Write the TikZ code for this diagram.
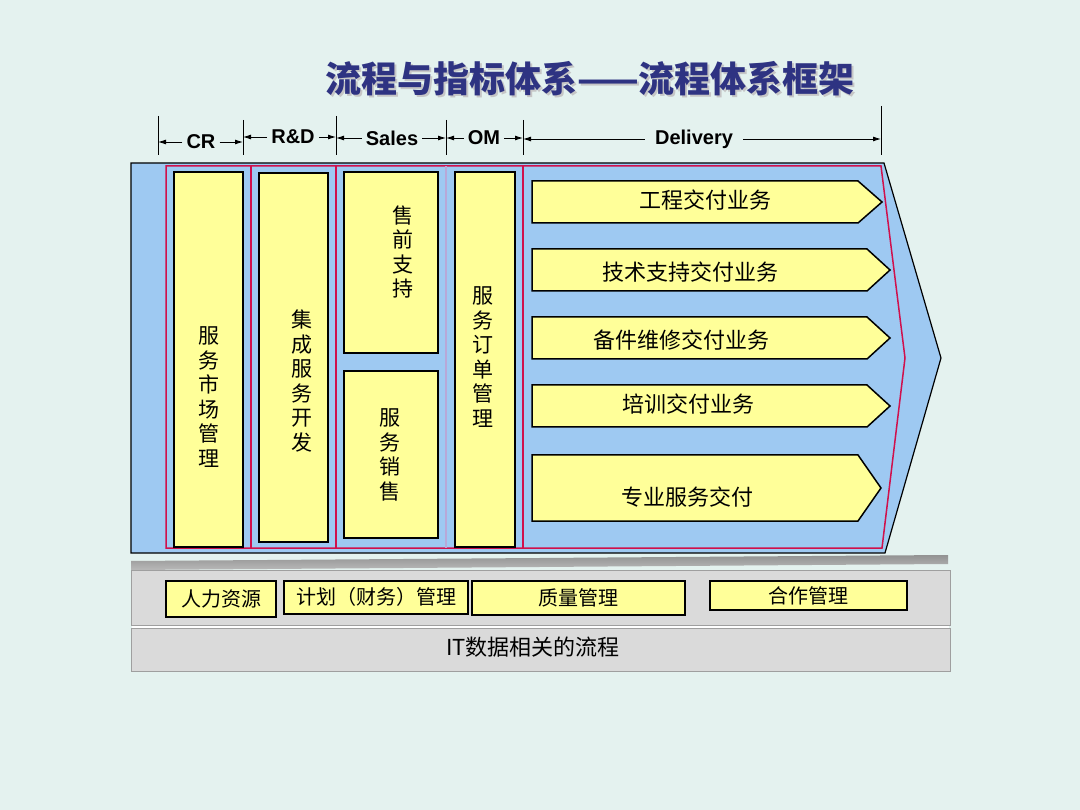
\documentclass[tikz,border=0pt]{standalone}
\usepackage{fontspec}
\setmainfont{Liberation Sans}
\newfontfamily\cjk{Noto Sans CJK SC}
\usetikzlibrary{arrows.meta}
\definecolor{bgc}{HTML}{E4F2EF}
\definecolor{chevc}{HTML}{9EC9F2}
\definecolor{yellowc}{HTML}{FFFF99}
\definecolor{redc}{HTML}{D0104C}
\definecolor{faintc}{HTML}{B8A8D8}
\definecolor{navyc}{HTML}{2E3382}
\definecolor{panelc}{HTML}{DADADA}
\begin{document}
\begin{tikzpicture}[x=1pt,y=-1pt,
  ybox/.style={draw=black,line width=1.5pt,fill=yellowc},
  vtext/.style={font=\cjk\fontsize{21}{24.5}\selectfont,align=center,inner sep=0pt},
  htext/.style={font=\cjk\fontsize{22}{26}\selectfont,inner sep=0pt},
  btext/.style={font=\cjk\fontsize{20}{24}\selectfont,inner sep=0pt},
  dimlab/.style={font=\fontsize{20}{24}\selectfont\bfseries,inner xsep=4pt,inner ysep=2pt},
  dimarrow/.style={-{Latex[length=8pt,width=5pt]},line width=0.9pt},
  tickline/.style={line width=1pt},
  redsep/.style={draw=redc,line width=1.5pt},
  panel/.style={fill=panelc,draw=gray!75,line width=1pt},
]
% background
\fill[bgc] (0,0) rectangle (1080,810);
\useasboundingbox (0,0) rectangle (1080,810);

% title
\node[font=\cjk\bfseries\fontsize{36}{42}\selectfont,text=gray!45] (titleshadow) at (592,81) {流程与指标体系——流程体系框架};
\node[font=\cjk\bfseries\fontsize{36}{42}\selectfont,text=navyc] (title) at (590,79) {流程与指标体系——流程体系框架};

% dimension ticks
\coordinate (t0) at (158,140);
\coordinate (t1) at (243,140);
\coordinate (t2) at (336,140);
\coordinate (t3) at (446,140);
\coordinate (t4) at (523,140);
\coordinate (t5) at (881,140);
\draw[tickline] (158,116) -- (158,155);
\draw[tickline] (243,120) -- (243,155);
\draw[tickline] (336,116) -- (336,155);
\draw[tickline] (446,120) -- (446,155);
\draw[tickline] (523,120) -- (523,155);
\draw[tickline] (881,106) -- (881,155);

\node[dimlab] (cr) at (201,142) {CR};
\node[dimlab] (rd) at (293,137) {R\&D};
\node[dimlab] (sales) at (392,138) {Sales};
\node[dimlab] (om) at (484,138) {OM};
\node[dimlab,inner xsep=10pt] (del) at (694,139) {Delivery};
\draw[dimarrow] (cr.west) -- (cr.west -| t0);
\draw[dimarrow] (cr.east) -- (cr.east -| t1);
\draw[dimarrow] (rd.west) -- (rd.west -| t1);
\draw[dimarrow] (rd.east) -- (rd.east -| t2);
\draw[dimarrow] (sales.west) -- (sales.west -| t2);
\draw[dimarrow] (sales.east) -- (sales.east -| t3);
\draw[dimarrow] (om.west) -- (om.west -| t3);
\draw[dimarrow] (om.east) -- (om.east -| t4);
\draw[dimarrow] (del.west) -- (del.west -| t4);
\draw[dimarrow] (del.east) -- (del.east -| t5);

% big chevron
\draw[fill=chevc,line width=1.2pt] (131,163) -- (884,163) -- (941,358) -- (885,553) -- (131,553) -- cycle;
% red inner outline and separators
\draw[redsep] (166,166) -- (881,166) -- (905,358) -- (882,548) -- (166,548) -- cycle;
\draw[redsep] (251,166) -- (251,548);
\draw[redsep] (336,166) -- (336,548);
\draw[redsep] (523,166) -- (523,548);
\draw[draw=faintc,line width=1.2pt] (446,166) -- (446,548);

% vertical yellow boxes
\draw[ybox] (174,172) rectangle (243,547);
\draw[ybox] (259,173) rectangle (328,542);
\draw[ybox] (344,172) rectangle (438,353);
\draw[ybox] (344,371) rectangle (438,538);
\draw[ybox] (455,172) rectangle (515,547);
\node[vtext] (scgl) at (209,397) {服\\务\\市\\场\\管\\理};
\node[vtext] (jcfw) at (302,381) {集\\成\\服\\务\\开\\发};
\node[vtext] (sqzc) at (403,252) {售\\前\\支\\持};
\node[vtext] (fwxs) at (390,455) {服\\务\\销\\售};
\node[vtext] (ddgl) at (483,357) {服\\务\\订\\单\\管\\理};

% delivery arrows
\draw[ybox] (532,181) -- (858,181) -- (882,202) -- (858,223) -- (532,223) -- cycle;
\draw[ybox] (532,249) -- (867,249) -- (890,270) -- (867,291) -- (532,291) -- cycle;
\draw[ybox] (532,317) -- (867,317) -- (890,338) -- (867,359) -- (532,359) -- cycle;
\draw[ybox] (532,385) -- (867,385) -- (890,406) -- (867,427) -- (532,427) -- cycle;
\draw[ybox] (532,455) -- (858,455) -- (881,488) -- (858,521) -- (532,521) -- cycle;
\node[htext] (d1) at (705,200) {工程交付业务};
\node[htext] (d2) at (690,272) {技术支持交付业务};
\node[htext] (d3) at (681,340) {备件维修交付业务};
\node[htext] (d4) at (688,404) {培训交付业务};
\node[htext] (d5) at (687,497) {专业服务交付};

% bottom support band
\shade[top color=gray!85,bottom color=gray!55] (131,561) -- (948,555) -- (948,564) -- (131,570) -- cycle;
\draw[panel] (131,570) rectangle (950,625);
\draw[panel] (131,628) rectangle (950,671);
\draw[white,line width=1.2pt] (132,627) -- (949,627);

\draw[ybox] (166,581) rectangle (276,617);
\draw[ybox] (284,581) rectangle (468,614);
\draw[ybox] (472,581) rectangle (685,615);
\draw[ybox] (710,581) rectangle (907,610);
\node[btext] (hr) at (221,599) {人力资源};
\node[btext] (plan) at (376,597) {计划（财务）管理};
\node[btext] (qual) at (578,598) {质量管理};
\node[btext] (coop) at (808,596) {合作管理};
\node[font=\cjk\fontsize{22}{26}\selectfont,inner sep=0pt] (it) at (533,647) {IT数据相关的流程};
\end{tikzpicture}
\end{document}
